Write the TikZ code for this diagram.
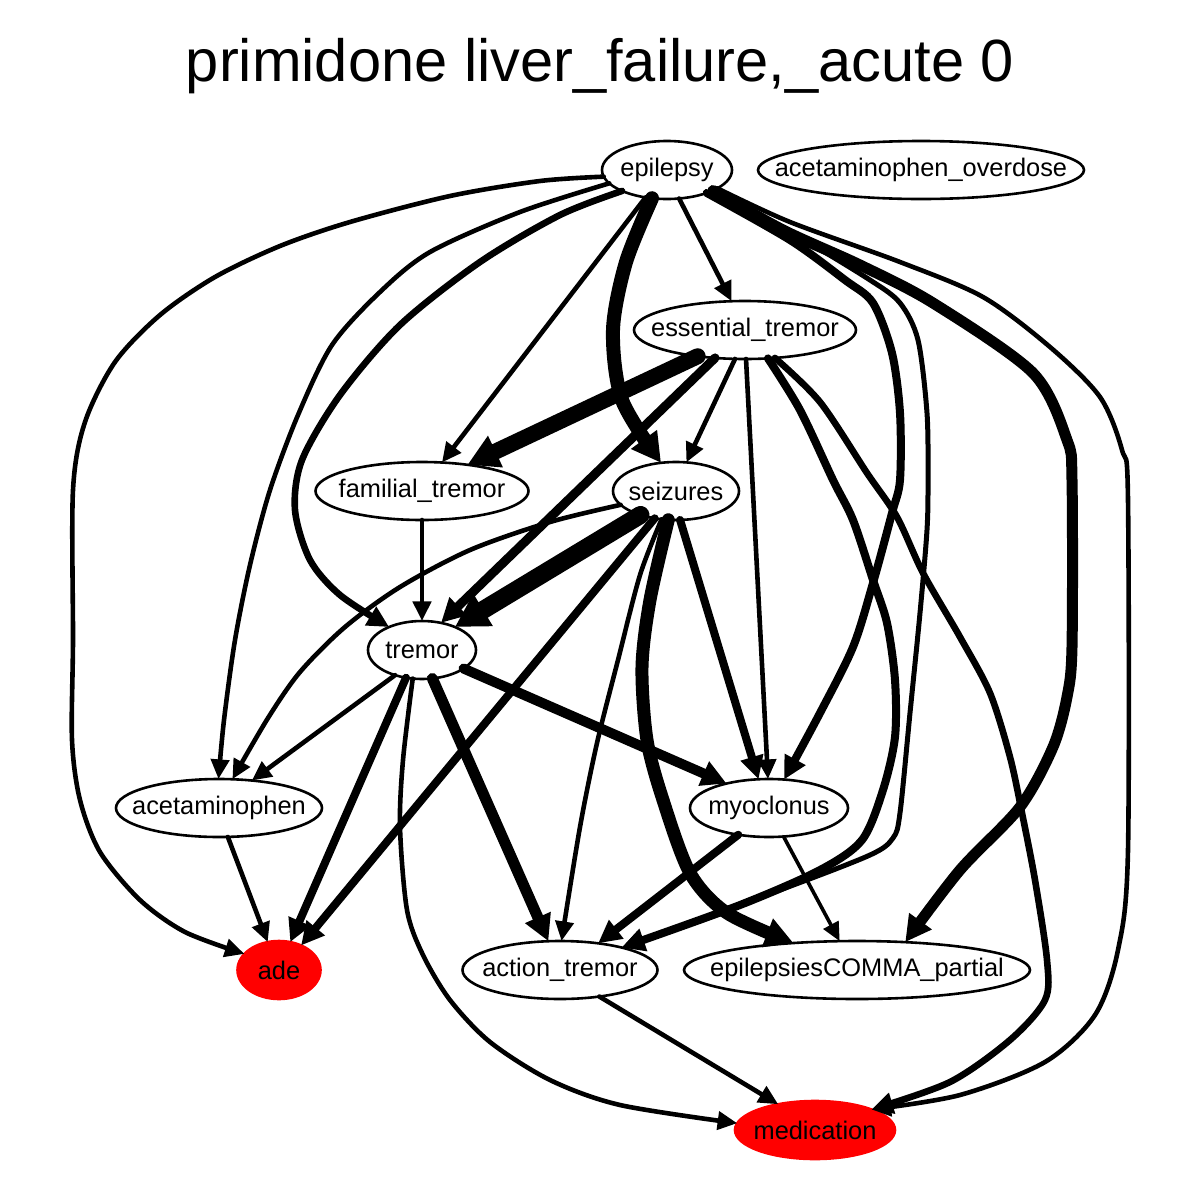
\documentclass[tikz,border=0pt]{standalone}
\usepackage{fontspec}
\setmainfont{Liberation Sans}
\usetikzlibrary{arrows.meta,shapes.geometric}
\begin{document}
\begin{tikzpicture}[x=0.5pt,y=-0.5pt,
  nd/.style={ellipse, draw, line width=1.3pt, inner sep=0pt, outer sep=0pt, minimum height=29pt, font=\fontsize{12.7pt}{14pt}\selectfont},
  rednd/.style={nd, fill=red, draw=red},
  ed/.style={line width=#1, line cap=round, line join=round, -{Triangle[length=7.5pt 1, width=6pt 1.3]}},
  ed/.default=2.3pt
]
\useasboundingbox[fill=white] (0,0) rectangle (1200,1200);
\node[font=\fontsize{29.8pt}{34pt}\selectfont] (title) at (600,66) {primidone liver\_failure,\_acute 0};

\node[nd, minimum width=65pt] (epilepsy) at (667,170) {\makebox[0pt]{epilepsy}};
\node[nd, minimum width=163pt] (acetaminophen_overdose) at (921,170) {\makebox[0pt]{acetaminophen\_overdose}};
\node[nd, minimum width=111pt] (essential_tremor) at (745,330) {\makebox[0pt]{essential\_tremor}};
\node[nd, minimum width=106.5pt] (familial_tremor) at (422,491) {\makebox[0pt]{familial\_tremor}};
\node[nd, minimum width=63pt] (seizures) at (676,491) {\makebox[0pt]{seizures}};
\node[nd, minimum width=54pt] (tremor) at (422,650) {\makebox[0pt]{tremor}};
\node[nd, minimum width=103pt] (acetaminophen) at (219,808) {\makebox[0pt]{acetaminophen}};
\node[nd, minimum width=79pt] (myoclonus) at (769,808) {\makebox[0pt]{myoclonus}};
\node[rednd, minimum width=41.5pt] (ade) at (279,970) {\makebox[0pt]{ade}};
\node[nd, minimum width=97.5pt] (action_tremor) at (560,970) {\makebox[0pt]{action\_tremor}};
\node[nd, minimum width=173pt] (epilepsiesCOMMA_partial) at (857,970) {\makebox[0pt]{epilepsiesCOMMA\_partial}};
\node[rednd, minimum width=80pt] (medication) at (815,1130) {\makebox[0pt]{medication}};

% from epilepsy
\draw[ed=2.3pt] plot[smooth] coordinates {(epilepsy.186) (540,181) (450,196) (350,222) (280,246) (215,277) (160,315) (115,362) (85,422) (73,490) (73,640) (72,740) (80,800) (100,852) (140,900) (185,932) (ade.155)};
\draw[ed=2.3pt] plot[smooth] coordinates {(epilepsy.193) (520,212) (430,252) (380,292) (332,345) (298,415) (270,490) (250,565) (235,640) (224,720) (acetaminophen.91)};
\draw[ed=3.3pt] plot[smooth] coordinates {(epilepsy.205) (560,215) (480,262) (400,325) (340,395) (302,460) (295,510) (310,560) (340,595) (tremor.145)};
\draw[ed=2.3pt] (epilepsy.232) -- (familial_tremor.55);
\draw[ed=7pt] plot[smooth] coordinates {(epilepsy.242) (626,262) (613,330) (622,400) (seizures.118)};
\draw[ed=2.3pt] (epilepsy.293) -- (essential_tremor.115);
\draw[ed=4pt] plot[smooth] coordinates {(epilepsy.330) (790,240) (845,280) (873,303) (892,353) (900,413) (900,480) (892,513) (873,583) (853,647) (820,713) (myoclonus.62)};
\draw[ed=2.5pt] plot[smooth] coordinates {(epilepsy.333) (800,238) (870,280) (900,303) (918,340) (927,413) (928,480) (927,530) (920,613) (910,713) (900,813) (893,838) (870,855) (780,890) (action_tremor.20)};
\draw[ed=5.5pt] plot[smooth] coordinates {(epilepsy.336) (783,230) (860,265) (933,303) (1033,373) (1067,440) (1072,480) (1072,647) (1067,697) (1053,747) (1020,807) (960,870) (epilepsiesCOMMA_partial.30)};
\draw[ed=2.3pt] plot[smooth] coordinates {(epilepsy.340) (790,222) (900,262) (983,297) (1050,347) (1100,397) (1122,450) (1128,500) (1128,850) (1118,950) (1095,1015) (1045,1062) (960,1095) (medication.20)};

% from essential_tremor
\draw[ed=8pt] (essential_tremor.209) -- (familial_tremor.30);
\draw[ed=4.5pt] (essential_tremor.223) -- (tremor.55);
\draw[ed=2.3pt] (essential_tremor.251) -- (seizures.70);
\draw[ed=2.3pt] (essential_tremor.272) -- (myoclonus.92);
\draw[ed=4pt] plot[smooth] coordinates {(essential_tremor.309) (800,410) (833,480) (853,520) (873,580) (887,623) (895,680) (895,737) (883,790) (862,840) (820,870) (740,905) (action_tremor.20)};
\draw[ed=3.3pt] plot[smooth] coordinates {(essential_tremor.317) (820,402) (867,473) (897,517) (923,573) (960,637) (990,693) (1010,757) (1022,813) (1035,880) (1047,960) (1045,1000) (1010,1040) (950,1082) (medication.20)};

% from familial_tremor
\draw[ed=2.3pt] (familial_tremor.270) -- (tremor.90);

% from seizures
\draw[ed=2.3pt] plot[smooth] coordinates {(seizures.194) (550,522) (470,550) (400,587) (345,627) (300,672) (268,718) (acetaminophen.65)};
\draw[ed=9pt] (seizures.214) -- (tremor.35);
\draw[ed=4pt] (seizures.232) -- (ade.48);
\draw[ed=2.3pt] plot[smooth] coordinates {(seizures.243) (640,575) (618,660) (597,743) (580,827) (action_tremor.87)};
\draw[ed=6.5pt] plot[smooth] coordinates {(seizures.255) (650,600) (642,667) (647,740) (663,800) (690,873) (727,913) (epilepsiesCOMMA_partial.157)};
\draw[ed=4pt] (seizures.278) -- (myoclonus.110);

% from tremor
\draw[ed=2.3pt] (tremor.223) -- (acetaminophen.40);
\draw[ed=4pt] (tremor.240) -- (ade.68);
\draw[ed=2.3pt] plot[smooth] coordinates {(tremor.252) (403,760) (400,827) (407,910) (423,955) (450,1000) (490,1042) (550,1080) (620,1105) (medication.175)};
\draw[ed=5.5pt] (tremor.290) -- (action_tremor.112);
\draw[ed=5pt] (tremor.336) -- (myoclonus.150);

% others
\draw[ed=2.3pt] (acetaminophen.287) -- (ade.112);
\draw[ed=4pt] (myoclonus.221) -- (action_tremor.35);
\draw[ed=1.8pt] (myoclonus.297) -- (epilepsiesCOMMA_partial.121);
\draw[ed=2.3pt] (action_tremor.326) -- (medication.145);
\end{tikzpicture}
\end{document}
